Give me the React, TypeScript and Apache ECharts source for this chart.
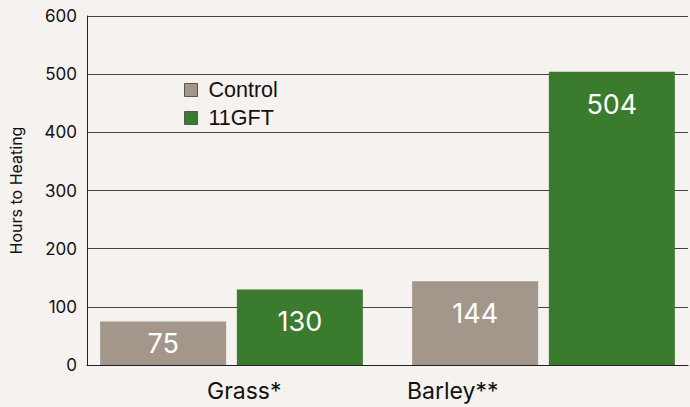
import React, { useEffect, useRef } from "react";
import * as echarts from "echarts";

const categories = ["Grass*", "Barley**"];
const controlValues = [75, 144];
const gftValues = [130, 504];
const yTicks = [0, 100, 200, 300, 400, 500, 600];

export default function App() {
  const ref = useRef<HTMLDivElement>(null);
  useEffect(() => {
    const chart = echarts.init(ref.current!, null, { renderer: "svg" });
    const top = 16;
    const bottom = 42;
    const valueLabel = {
      show: true,
      position: "insideTop" as const,
      distance: 19,
      color: "#ffffff",
      fontSize: 27,
      fontFamily: "Inter",
    };
    chart.setOption({
      animation: false,
      backgroundColor: "#f5f2ef",
      legend: {
        orient: "vertical",
        left: 184,
        top: 79,
        padding: 0,
        itemWidth: 13,
        itemHeight: 13,
        itemGap: 6,
        icon: "rect",
        textStyle: {
          fontFamily: "Liberation Sans",
          fontSize: 21.5,
          color: "#111",
          padding: [0, 0, 0, 6],
        },
        data: [
          { name: "Control", itemStyle: { borderColor: "#555", borderWidth: 1 } },
          { name: "11GFT", itemStyle: { borderColor: "#555", borderWidth: 1 } },
        ],
      },
      grid: [
        { left: 87, right: 2, top, bottom, outerBoundsMode: "none" },
        { left: 75.5, width: 624, top, bottom, outerBoundsMode: "none" },
      ],
      xAxis: [
        {
          type: "category",
          gridIndex: 0,
          data: categories,
          axisLine: { show: true, lineStyle: { color: "#222", width: 1 } },
          axisTick: { show: false },
          axisLabel: {
            margin: 14,
            formatter: (v: string) => (v === categories[0] ? `{a|${v}}` : `{b|${v}}`),
            rich: {
              a: { fontFamily: "Inter", fontSize: 23, color: "#111", padding: [0, 0, 0, 14] },
              b: { fontFamily: "Inter", fontSize: 23, color: "#111", padding: [0, 170, 0, 0] },
            },
          },
        },
        {
          type: "category",
          gridIndex: 1,
          data: categories,
          show: false,
        },
      ],
      yAxis: [
        {
          type: "value",
          gridIndex: 0,
          min: yTicks[0],
          max: yTicks[yTicks.length - 1],
          interval: 100,
          name: "Hours to Heating",
          nameLocation: "middle",
          nameRotate: 90,
          nameGap: 63,
          nameTextStyle: { fontFamily: "Inter", fontSize: 16, color: "#111" },
          axisLine: { show: true, lineStyle: { color: "#222", width: 1 } },
          axisTick: { show: false },
          axisLabel: { margin: 10, fontFamily: "Inter", fontSize: 17, color: "#111" },
          splitLine: { show: true, lineStyle: { color: "#444", width: 1 } },
        },
        {
          type: "value",
          gridIndex: 1,
          min: 0,
          max: 600,
          show: false,
          splitLine: { show: false },
        },
      ],
      series: [
        {
          name: "Control",
          type: "bar",
          xAxisIndex: 1,
          yAxisIndex: 1,
          barWidth: 126,
          barGap: "8.5%",
          itemStyle: { color: "#a3968a" },
          data: controlValues.map((v, i) =>
            i === 0 ? { value: v, label: { position: "inside" } } : v
          ),
          label: valueLabel,
        },
        {
          name: "11GFT",
          type: "bar",
          xAxisIndex: 1,
          yAxisIndex: 1,
          barWidth: 126,
          itemStyle: { color: "#3a7b2e" },
          data: gftValues,
          label: valueLabel,
        },
      ],
    });
    return () => chart.dispose();
  }, []);
  return <div ref={ref} style={{ width: 690, height: 407, position: "fixed", left: 0, top: 0 }} />;
}
